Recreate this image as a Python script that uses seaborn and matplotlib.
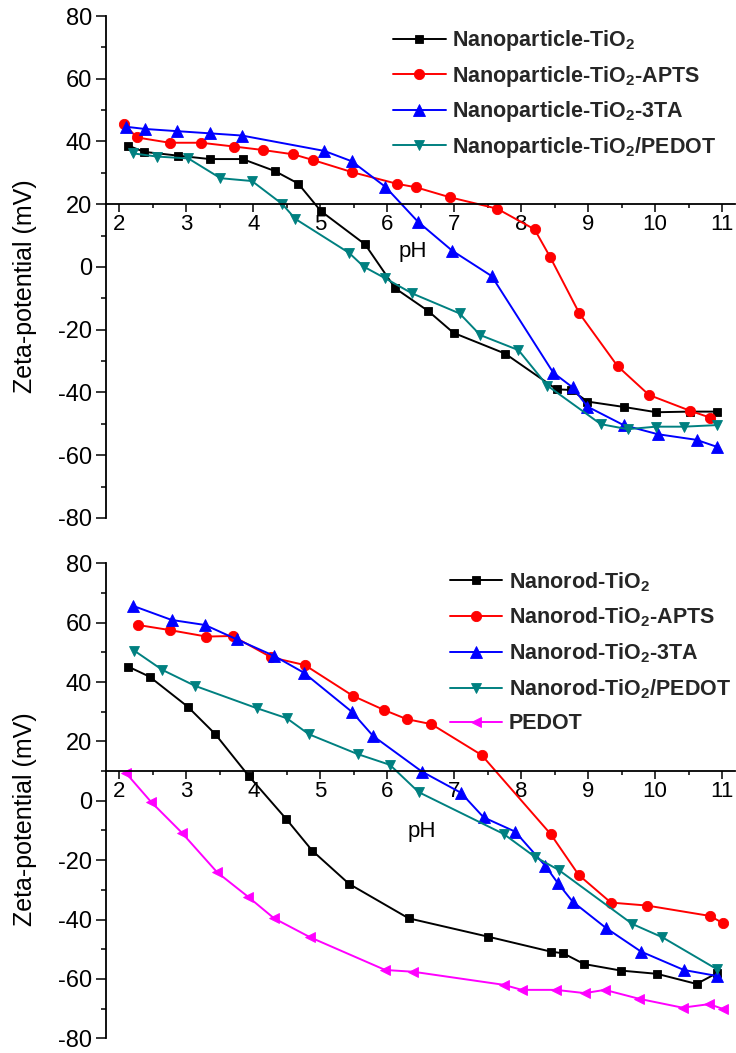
import matplotlib
matplotlib.use("Agg")
import matplotlib.pyplot as plt
from matplotlib.ticker import MultipleLocator
import seaborn as sns

# ---- Nanoparticle TiO2 series (pH, zeta potential in mV) ----
np_tio2_ph = [2.13, 2.37, 2.87, 3.35, 3.84, 4.32, 4.67, 5.01, 5.67, 6.12, 6.61, 6.99,
              7.76, 8.53, 8.75, 8.99, 9.53, 10.02, 10.52, 10.92]
np_tio2_zeta = [38.7, 36.7, 35.5, 34.4, 34.4, 30.6, 26.6, 17.8, 7.2, -6.8, -14.0, -21.0,
                -27.6, -39.0, -39.2, -42.9, -44.6, -46.3, -46.1, -46.1]

np_apts_ph = [2.07, 2.26, 2.75, 3.22, 3.71, 4.14, 4.60, 4.89, 5.48, 6.15, 6.43, 6.94,
              7.64, 8.20, 8.43, 8.87, 9.44, 9.91, 10.52, 10.82]
np_apts_zeta = [45.6, 41.3, 39.6, 39.6, 38.4, 37.3, 35.9, 34.1, 30.2, 26.5, 25.4, 22.2,
                18.6, 12.0, 3.3, -14.8, -31.6, -40.8, -45.8, -48.0]

np_3ta_ph = [2.10, 2.38, 2.86, 3.35, 3.83, 5.06, 5.47, 5.97, 6.46, 6.97, 7.56, 8.48,
             8.77, 8.99, 9.53, 10.04, 10.62, 10.92]
np_3ta_zeta = [44.7, 44.0, 43.3, 42.6, 41.9, 37.0, 33.7, 25.6, 14.4, 5.2, -2.9, -33.7,
               -38.4, -44.5, -50.4, -53.3, -55.1, -57.3]

np_pedot_ph = [2.21, 2.56, 3.03, 3.51, 3.98, 4.43, 4.63, 5.43, 5.65, 5.97, 6.37, 7.08,
               7.39, 7.96, 8.39, 9.19, 9.59, 10.01, 10.43, 10.92]
np_pedot_zeta = [36.2, 35.2, 34.6, 28.3, 27.4, 20.1, 15.3, 4.5, 0.1, -3.6, -8.4, -14.8,
                 -21.7, -26.5, -37.8, -50.1, -51.7, -50.9, -50.9, -50.4]

# ---- Nanorod TiO2 series and bare PEDOT ----
nr_tio2_ph = [2.13, 2.45, 3.02, 3.43, 3.93, 4.49, 4.88, 5.43, 6.32, 7.51, 8.44, 8.63,
              8.94, 9.49, 10.03, 10.62, 10.92]
nr_tio2_zeta = [45.2, 41.8, 31.7, 22.5, 8.4, -6.1, -16.8, -28.0, -39.6, -45.8, -50.8, -51.4,
                -55.0, -57.2, -58.3, -61.7, -58.1]

nr_apts_ph = [2.28, 2.75, 3.30, 3.69, 4.27, 4.77, 5.49, 5.95, 6.29, 6.66, 7.41, 8.44,
              8.86, 9.34, 9.88, 10.82, 11.02]
nr_apts_zeta = [59.2, 57.5, 55.3, 55.5, 48.3, 45.7, 35.3, 30.6, 27.5, 25.8, 15.4, -11.2,
                -25.0, -34.3, -35.3, -38.8, -41.3]

nr_3ta_ph = [2.21, 2.78, 3.28, 3.75, 4.31, 4.75, 5.47, 5.79, 6.52, 7.10, 7.44, 7.91,
             8.36, 8.55, 8.77, 9.27, 9.79, 10.43, 10.92]
nr_3ta_zeta = [65.6, 60.9, 59.2, 54.4, 48.8, 43.2, 30.0, 21.8, 9.8, 2.7, -5.6, -10.4,
               -21.9, -27.8, -34.0, -42.9, -50.8, -57.0, -59.0]

nr_pedot_ph = [2.22, 2.64, 3.13, 4.05, 4.50, 4.83, 5.56, 6.04, 6.47, 7.74, 8.20, 8.56,
               9.66, 10.11, 10.92]
nr_pedot_zeta = [50.6, 44.1, 38.7, 31.2, 27.8, 22.4, 15.7, 12.1, 2.9, -11.2, -18.8, -23.3,
                 -41.5, -46.0, -56.7]

pedot_ph = [2.10, 2.47, 2.93, 3.46, 3.92, 4.31, 4.85, 5.97, 6.39, 7.74, 8.01, 8.52,
            8.95, 9.25, 9.76, 10.41, 10.81, 11.01]
pedot_zeta = [9.3, -0.3, -10.7, -24.1, -32.3, -39.6, -46.0, -57.0, -57.6, -62.0, -63.7, -63.7,
              -64.8, -63.7, -66.7, -69.7, -68.5, -70.1]

top_labels = ["Nanoparticle-TiO$_\\mathbf{2}$",
              "Nanoparticle-TiO$_\\mathbf{2}$-APTS",
              "Nanoparticle-TiO$_\\mathbf{2}$-3TA",
              "Nanoparticle-TiO$_\\mathbf{2}$/PEDOT"]
bottom_labels = ["Nanorod-TiO$_\\mathbf{2}$",
                 "Nanorod-TiO$_\\mathbf{2}$-APTS",
                 "Nanorod-TiO$_\\mathbf{2}$-3TA",
                 "Nanorod-TiO$_\\mathbf{2}$/PEDOT",
                 "PEDOT"]

x_ticks = [2, 3, 4, 5, 6, 7, 8, 9, 10, 11]
y_ticks = [-80, -60, -40, -20, 0, 20, 40, 60, 80]

colors = ["#000000", "#FF0000", "#0000FF", "#008080", "#FF00FF"]
markers = ["s", "o", "^", "v", "<"]
msizes = [6.0, 7.4, 8.0, 7.6, 7.6]

sns.set_theme(style="ticks")
plt.rcParams["font.family"] = ["Liberation Sans", "DejaVu Sans"]
plt.rcParams["mathtext.fontset"] = "custom"
plt.rcParams["mathtext.rm"] = "Liberation Sans"
plt.rcParams["mathtext.bf"] = "Liberation Sans:bold"
plt.rcParams["axes.unicode_minus"] = False

fig = plt.figure(figsize=(7.36, 10.53), dpi=100)
ax_top = fig.add_axes([0.1440, 0.5081, 0.8552, 0.4767])
ax_bot = fig.add_axes([0.1440, 0.0140, 0.8552, 0.4511])

top_series = [(np_tio2_ph, np_tio2_zeta), (np_apts_ph, np_apts_zeta),
              (np_3ta_ph, np_3ta_zeta), (np_pedot_ph, np_pedot_zeta)]
bot_series = [(nr_tio2_ph, nr_tio2_zeta), (nr_apts_ph, nr_apts_zeta),
              (nr_3ta_ph, nr_3ta_zeta), (nr_pedot_ph, nr_pedot_zeta),
              (pedot_ph, pedot_zeta)]


def draw_panel(ax, series, labels, xaxis_at, ph_pos, legend_anchor, spacing):
    for i, ((ph, zeta), lab) in enumerate(zip(series, labels)):
        sns.lineplot(x=ph, y=zeta, ax=ax, color=colors[i], marker=markers[i],
                     markersize=msizes[i], markeredgecolor=colors[i],
                     markeredgewidth=0.6, linewidth=1.4, label=lab,
                     sort=False, estimator=None, clip_on=False)
    ax.set_xlim(1.8, 11.2)
    ax.set_ylim(-80, 80)
    ax.set_xticks(x_ticks)
    ax.set_yticks(y_ticks)
    ax.xaxis.set_minor_locator(MultipleLocator(0.5))
    ax.yaxis.set_minor_locator(MultipleLocator(10))
    for s in ("top", "right"):
        ax.spines[s].set_visible(False)
    ax.spines["bottom"].set_position(("data", xaxis_at))
    for s in ("left", "bottom"):
        ax.spines[s].set_linewidth(1.3)
        ax.spines[s].set_color("black")
    ax.tick_params(axis="x", which="major", length=6, width=1.1, pad=1,
                   labelsize=16, colors="black")
    ax.tick_params(axis="x", which="minor", length=3, width=1.1, colors="black")
    ax.tick_params(axis="y", which="major", length=7, width=1.1, pad=3,
                   labelsize=17, colors="black")
    ax.tick_params(axis="y", which="minor", length=3.6, width=1.1, colors="black")
    ax.set_xlabel("")
    ax.set_ylabel("Zeta-potential (mV)", fontsize=18, color="black")
    ax.yaxis.set_label_coords(-0.1096, 0.462)
    ax.text(ph_pos[0], ph_pos[1], "pH", ha="center", va="center",
            fontsize=16, color="black")
    ax.legend(loc="upper left", bbox_to_anchor=legend_anchor,
              bbox_transform=fig.transFigure, frameon=False,
              prop={"weight": "bold", "size": 15.5}, handlelength=2.45,
              handletextpad=0.3, labelspacing=spacing, borderpad=0,
              borderaxespad=0)


draw_panel(ax_top, top_series, top_labels, 20, (6.38, 4.8), (0.534, 0.9733), 0.49)
draw_panel(ax_bot, bot_series, bottom_labels, 10, (6.52, -10.2), (0.611, 0.4587), 0.57)

fig.savefig("out.png", dpi=100)
